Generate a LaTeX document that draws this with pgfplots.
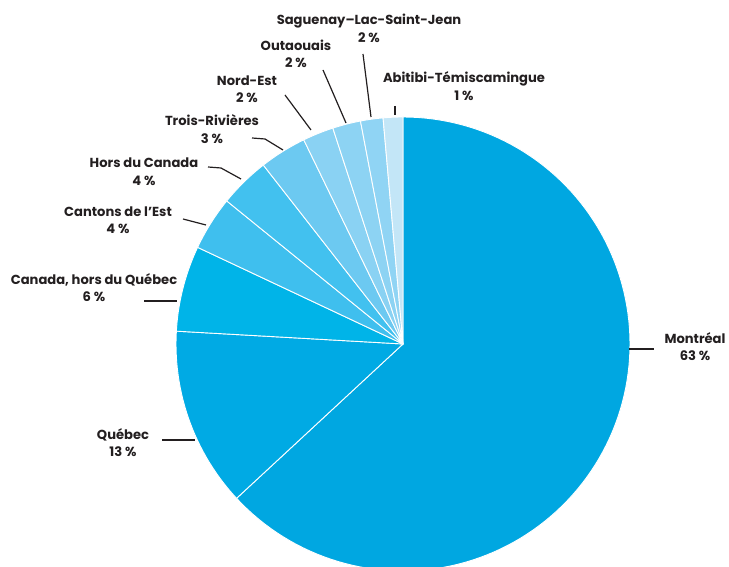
\documentclass[border=0pt]{standalone}
\usepackage{fontspec}
\setmainfont{Poppins}
\usepackage{pgfplots}
\pgfplotsset{compat=1.18}
\definecolor{cMon}{RGB}{0,167,225}
\definecolor{cQue}{RGB}{0,170,228}
\definecolor{cCan}{RGB}{0,180,232}
\definecolor{cCEst}{RGB}{63,191,238}
\definecolor{cHors}{RGB}{66,193,239}
\definecolor{cTR}{RGB}{108,201,241}
\definecolor{cNE}{RGB}{138,210,243}
\definecolor{cOut}{RGB}{141,211,243}
\definecolor{cSag}{RGB}{144,212,244}
\definecolor{cAbi}{RGB}{195,230,247}
\definecolor{txt}{RGB}{35,31,32}
\begin{document}
\begin{tikzpicture}
\begin{axis}[
  x=1pt, y=1pt, xmin=0, xmax=729, ymin=0, ymax=567,
  hide axis, clip=true, scale only axis,
  every axis plot/.append style={draw=white, line width=0.9pt, line join=round},
]
% shares (percent), counterclockwise from the top:
% Abitibi 1.4, Saguenay 1.6, Outaouais 2.0, Nord-Est 2.2, Trois-Rivieres 3.35,
% Hors du Canada 3.6, Cantons de l'Est 3.85, Canada hors Quebec 6.1, Quebec 12.8, Montreal 63.1
\addplot[fill=cMon, domain=222.84:450, samples=120] ({403+227*cos(x)},{223+227*sin(x)}) -- (403,223) -- cycle;
\addplot[fill=cQue, domain=176.76:222.84, samples=30] ({403+227*cos(x)},{223+227*sin(x)}) -- (403,223) -- cycle;
\addplot[fill=cCan, domain=154.80:176.76, samples=20] ({403+227*cos(x)},{223+227*sin(x)}) -- (403,223) -- cycle;
\addplot[fill=cCEst, domain=140.94:154.80, samples=15] ({403+227*cos(x)},{223+227*sin(x)}) -- (403,223) -- cycle;
\addplot[fill=cHors, domain=127.98:140.94, samples=15] ({403+227*cos(x)},{223+227*sin(x)}) -- (403,223) -- cycle;
\addplot[fill=cTR, domain=115.92:127.98, samples=15] ({403+227*cos(x)},{223+227*sin(x)}) -- (403,223) -- cycle;
\addplot[fill=cNE, domain=108.00:115.92, samples=10] ({403+227*cos(x)},{223+227*sin(x)}) -- (403,223) -- cycle;
\addplot[fill=cOut, domain=100.80:108.00, samples=10] ({403+227*cos(x)},{223+227*sin(x)}) -- (403,223) -- cycle;
\addplot[fill=cSag, domain=95.04:100.80, samples=10] ({403+227*cos(x)},{223+227*sin(x)}) -- (403,223) -- cycle;
\addplot[fill=cAbi, domain=90:95.04, samples=10] ({403+227*cos(x)},{223+227*sin(x)}) -- (403,223) -- cycle;
% leader lines
\begin{scope}[draw=txt, line width=1.2pt]
\draw (395,461) -- (395,452);
\draw (363,513) -- (371,450);
\draw (323,497) -- (346,444);
\draw (285,472) -- (311,437);
\draw (252,429) -- (265,428) -- (283,417);
\draw (208,400) -- (221,399) -- (241,388);
\draw (183,348) -- (206,342);
\draw (144,266) -- (177,266);
\draw (162,127) -- (195,127);
\draw (629,218) -- (654,218);
\end{scope}
\begin{scope}[every node/.style={align=center, text=txt, font=\fontsize{13.1}{17.5}\selectfont\bfseries, inner sep=0pt}]
\node at (369,538.5) {Saguenay–Lac-Saint-Jean\\2 \%};
\node at (296,513) {Outaouais\\2 \%};
\node at (247,478) {Nord-Est\\2 \%};
\node at (212,438) {Trois-Rivières\\3 \%};
\node at (144,395.5) {Hors du Canada\\4 \%};
\node at (118,347) {Cantons de l’Est\\4 \%};
\node at (94,279.5) {Canada, hors du Québec\\6 \%};
\node at (123,124.5) {Québec\\13 \%};
\node at (695,220.5) {Montréal\\63 \%};
\node at (464,481) {Abitibi-Témiscamingue\\1 \%};
\end{scope}
\end{axis}
\pgfresetboundingbox
\useasboundingbox (0,0) rectangle (729pt,567pt);
\end{tikzpicture}
\end{document}
